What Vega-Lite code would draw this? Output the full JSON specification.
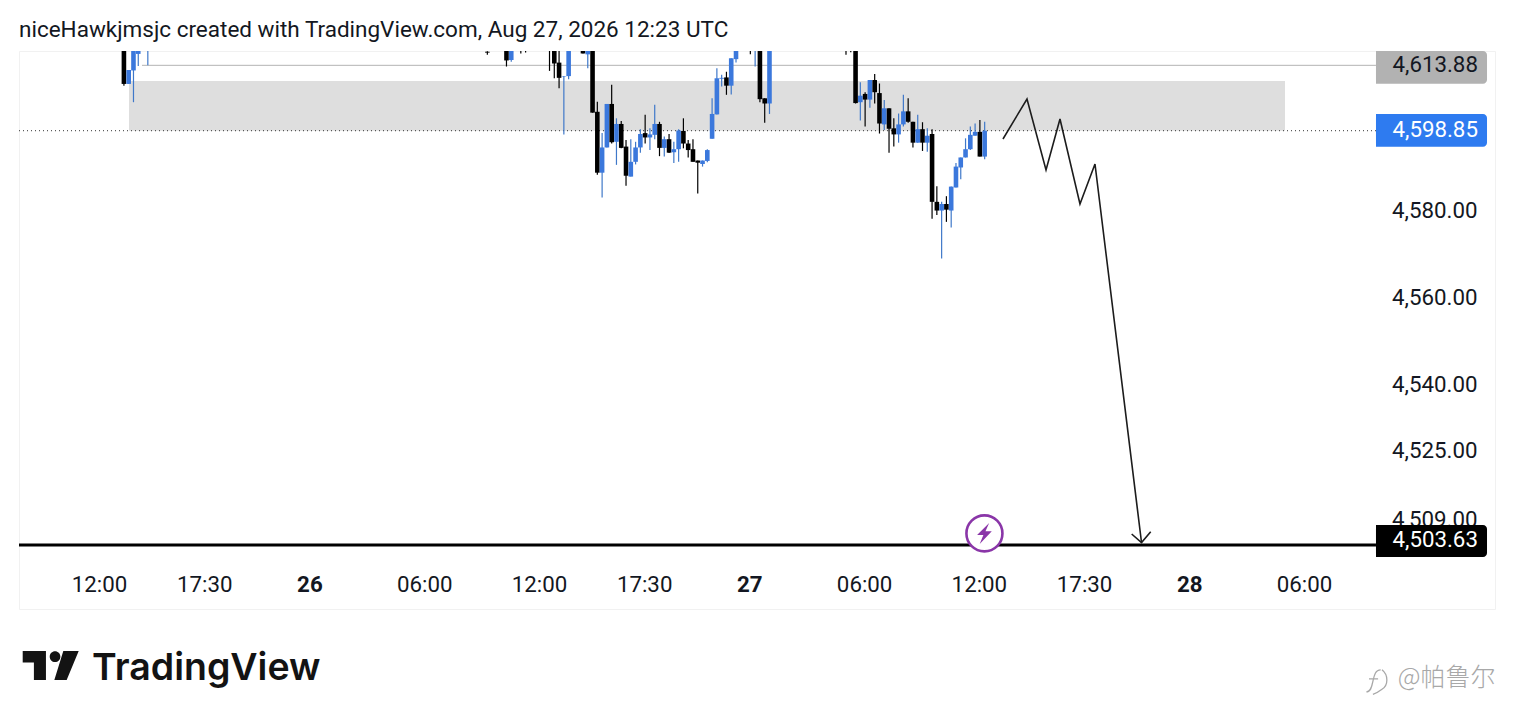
{
  "$schema": "https://vega.github.io/schema/vega-lite/v6.json",
  "autosize": "none",
  "width": 1476,
  "height": 558,
  "padding": {"left": 19, "top": 51, "right": 19, "bottom": 114},
  "background": "white",
  "title": {
    "text": "niceHawkjmsjc created with TradingView.com, Aug 27, 2026 12:23 UTC",
    "anchor": "start",
    "frame": "group",
    "font": "Roboto",
    "fontSize": 22.5,
    "fontWeight": "normal",
    "color": "#131722",
    "offset": 10
  },
  "datasets": {
    "candles": [
      {"bar":5,"open":4619,"high":4619,"low":4609.2,"close":4609.6},
      {"bar":6,"open":4609.6,"high":4612.8,"low":4609.6,"close":4612.8},
      {"bar":7,"open":4612.7,"high":4619,"low":4605.4,"close":4619},
      {"bar":8,"open":4616.5,"high":4619,"low":4613.7,"close":4619},
      {"bar":10,"open":4618.9,"high":4619,"low":4613.9,"close":4619},
      {"bar":81,"open":4617,"high":4617.1,"low":4616.3,"close":4616.8},
      {"bar":85,"open":4619,"high":4619,"low":4613.6,"close":4615},
      {"bar":86,"open":4615.1,"high":4619,"low":4614.7,"close":4619},
      {"bar":88,"open":4619,"high":4619,"low":4616.6,"close":4619},
      {"bar":89,"open":4619,"high":4619,"low":4616.8,"close":4619},
      {"bar":94,"open":4619,"high":4619,"low":4612.6,"close":4619},
      {"bar":95,"open":4619,"high":4619,"low":4610.9,"close":4614.3},
      {"bar":96,"open":4614.5,"high":4619,"low":4608.6,"close":4611},
      {"bar":97,"open":4611.3,"high":4611.4,"low":4598,"close":4611.4},
      {"bar":98,"open":4611.4,"high":4619,"low":4610.7,"close":4619},
      {"bar":101,"open":4619,"high":4619,"low":4616.6,"close":4616.6},
      {"bar":102,"open":4616.4,"high":4619,"low":4613.2,"close":4619},
      {"bar":103,"open":4619,"high":4619,"low":4603,"close":4603},
      {"bar":104,"open":4603.2,"high":4605.5,"low":4588.7,"close":4589.2},
      {"bar":105,"open":4589.2,"high":4598.3,"low":4583.5,"close":4595},
      {"bar":106,"open":4595,"high":4605,"low":4595,"close":4605},
      {"bar":107,"open":4605,"high":4609.4,"low":4595.9,"close":4596.2},
      {"bar":108,"open":4596.3,"high":4601.7,"low":4591,"close":4600.4},
      {"bar":109,"open":4600.4,"high":4601.1,"low":4594.8,"close":4594.9},
      {"bar":110,"open":4595.2,"high":4596.7,"low":4586.2,"close":4588.5},
      {"bar":111,"open":4588.3,"high":4596.9,"low":4588.3,"close":4591.7},
      {"bar":112,"open":4591.7,"high":4596.3,"low":4591.1,"close":4595},
      {"bar":113,"open":4595,"high":4599.2,"low":4593.8,"close":4598.1},
      {"bar":114,"open":4598.3,"high":4602.5,"low":4595.9,"close":4597.3},
      {"bar":115,"open":4597.3,"high":4599.4,"low":4594.4,"close":4598},
      {"bar":116,"open":4597.9,"high":4604.8,"low":4596.9,"close":4600.4},
      {"bar":117,"open":4600.4,"high":4600.9,"low":4593,"close":4594.9},
      {"bar":118,"open":4594.9,"high":4597.5,"low":4592.9,"close":4596.9},
      {"bar":119,"open":4596.9,"high":4598.1,"low":4593.7,"close":4593.8},
      {"bar":120,"open":4593.9,"high":4596.3,"low":4591.4,"close":4594.6},
      {"bar":121,"open":4594.6,"high":4599.2,"low":4591.7,"close":4598.9},
      {"bar":122,"open":4598.8,"high":4601.7,"low":4594.8,"close":4595.9},
      {"bar":123,"open":4595.9,"high":4596.7,"low":4592.7,"close":4594.4},
      {"bar":124,"open":4594.6,"high":4596.9,"low":4591.7,"close":4591.7},
      {"bar":125,"open":4592,"high":4592,"low":4584.4,"close":4591.5},
      {"bar":126,"open":4591.2,"high":4592,"low":4590.6,"close":4592},
      {"bar":127,"open":4591.9,"high":4594.6,"low":4591.6,"close":4594.4},
      {"bar":128,"open":4597,"high":4606.3,"low":4597,"close":4602.7},
      {"bar":129,"open":4602.6,"high":4613.2,"low":4602.6,"close":4610.9},
      {"bar":130,"open":4610.8,"high":4611.7,"low":4609,"close":4611},
      {"bar":131,"open":4611.1,"high":4612.4,"low":4607.1,"close":4609.2},
      {"bar":132,"open":4609.2,"high":4615.5,"low":4607.2,"close":4615.5},
      {"bar":133,"open":4615.3,"high":4619,"low":4614.5,"close":4619},
      {"bar":136,"open":4619,"high":4619,"low":4616.4,"close":4619},
      {"bar":137,"open":4618.9,"high":4619,"low":4613.6,"close":4619},
      {"bar":138,"open":4619,"high":4619,"low":4605.4,"close":4606.1},
      {"bar":139,"open":4606.3,"high":4606.3,"low":4600.7,"close":4605.1},
      {"bar":140,"open":4605.1,"high":4619,"low":4602.7,"close":4619},
      {"bar":156,"open":4619,"high":4619,"low":4616.3,"close":4619},
      {"bar":157,"open":4619,"high":4619,"low":4616.9,"close":4619},
      {"bar":158,"open":4619,"high":4619,"low":4605.1,"close":4605.2},
      {"bar":159,"open":4605.4,"high":4610,"low":4601.2,"close":4606.9},
      {"bar":160,"open":4607.3,"high":4607.7,"low":4599.8,"close":4606},
      {"bar":161,"open":4606,"high":4610.5,"low":4604.1,"close":4610.5},
      {"bar":162,"open":4610.5,"high":4611.9,"low":4605.1,"close":4607.7},
      {"bar":163,"open":4607.5,"high":4609.7,"low":4598.2,"close":4600.5},
      {"bar":164,"open":4600.3,"high":4605.9,"low":4599,"close":4604},
      {"bar":165,"open":4604,"high":4604,"low":4593.8,"close":4599.3},
      {"bar":166,"open":4599.4,"high":4601.7,"low":4595.2,"close":4598},
      {"bar":167,"open":4598,"high":4602.8,"low":4596.1,"close":4600.3},
      {"bar":168,"open":4600.3,"high":4607.1,"low":4599.8,"close":4603.3},
      {"bar":169,"open":4603.3,"high":4606.3,"low":4600.7,"close":4600.9},
      {"bar":170,"open":4600.9,"high":4600.9,"low":4595,"close":4596.1},
      {"bar":171,"open":4596.1,"high":4602.5,"low":4596.1,"close":4599.2},
      {"bar":172,"open":4599.2,"high":4600.8,"low":4594.2,"close":4596.1},
      {"bar":173,"open":4596.1,"high":4599.4,"low":4594,"close":4597.7},
      {"bar":174,"open":4598.1,"high":4599.2,"low":4578.6,"close":4582.5},
      {"bar":175,"open":4582.5,"high":4586.1,"low":4579.5,"close":4580.5},
      {"bar":176,"open":4580.5,"high":4582.5,"low":4569.5,"close":4582},
      {"bar":177,"open":4582,"high":4583.8,"low":4577.9,"close":4580.7},
      {"bar":178,"open":4580.5,"high":4586,"low":4576.6,"close":4586},
      {"bar":179,"open":4585.8,"high":4591.4,"low":4585.8,"close":4590.6},
      {"bar":180,"open":4590.4,"high":4592.7,"low":4587.7,"close":4592.7},
      {"bar":181,"open":4592.7,"high":4597.1,"low":4592.7,"close":4594.6},
      {"bar":182,"open":4594.6,"high":4599.8,"low":4594.4,"close":4597.9},
      {"bar":183,"open":4597.7,"high":4600.5,"low":4597.7,"close":4598.6},
      {"bar":184,"open":4598.6,"high":4601.3,"low":4592.9,"close":4592.9},
      {"bar":185,"open":4592.9,"high":4600.9,"low":4592.3,"close":4598.85}
    ],
    "zone": [{"start":6.06,"end":247.8,"top":4610.27,"bottom":4598.85}],
    "levels": [
      {"kind":"level","price":4613.88,"start":8.78,"end":266.83},
      {"kind":"last","price":4598.85,"start":-16.94,"end":266.83},
      {"kind":"stop","price":4503.63,"start":-16.94,"end":266.83}
    ],
    "tags": [
      {"kind":"level","label":"4,613.88","start":266.83,"end":290.05,"textBar":288.15,"top":4617.17,"bottom":4609.65,"mid":4613.95},
      {"kind":"last","label":"4,598.85","start":266.83,"end":290.05,"textBar":288.15,"top":4602.69,"bottom":4595.17,"mid":4599},
      {"kind":"stop","label":"4,503.63","start":266.83,"end":290.05,"textBar":288.15,"top":4508.23,"bottom":4500.87,"mid":4504.78}
    ],
    "path": [
      {"part":"path","step":1,"bar":188.83,"price":4596.94},
      {"part":"path","step":2,"bar":193.85,"price":4606.14},
      {"part":"path","step":3,"bar":197.83,"price":4589.82},
      {"part":"path","step":4,"bar":200.75,"price":4601.54},
      {"part":"path","step":5,"bar":204.93,"price":4582},
      {"part":"path","step":6,"bar":208.07,"price":4591.2},
      {"part":"path","step":7,"bar":217.8,"price":4504.2},
      {"part":"head","step":1,"bar":215.74,"price":4506.16},
      {"part":"head","step":2,"bar":217.8,"price":4504.2},
      {"part":"head","step":3,"bar":219.72,"price":4506.69}
    ],
    "flash": [{"bar":184.95,"price":4506.3}],
    "logo": [{"bar":-10.31,"price":4475.94}],
    "brand": [{"bar":-1.67,"price":4472.6,"label":"TradingView"}],
    "mark": [{"bar":271.4,"price":4471.2,"label":"@帕鲁尔"}],
    "markIcon": [{"bar":267,"price":4472.26}]
  },
  "layer": [
    {
      "data": {"name": "zone"},
      "mark": {"type": "rect", "color": "#dedede"},
      "encoding": {
        "x": {
          "field": "start", "type": "quantitative", "title": null,
          "scale": {"domain": [-16.94, 291.72], "nice": false, "zero": false, "padding": 0},
          "axis": {
            "orient": "bottom", "offset": -25, "grid": false, "domain": false, "ticks": false,
            "values": [0, 22, 44, 68, 92, 114, 136, 160, 184, 206, 228, 252],
            "labelExpr": "{'0':'12:00','22':'17:30','44':'26','68':'06:00','92':'12:00','114':'17:30','136':'27','160':'06:00','184':'12:00','206':'17:30','228':'28','252':'06:00'}[datum.value]",
            "labelFont": "Roboto", "labelFontSize": 22.3, "labelColor": "#131722",
            "labelFontWeight": {"condition": {"test": "datum.value == 44 || datum.value == 136 || datum.value == 228", "value": "bold"}, "value": "normal"},
            "labelPadding": 0, "labelOffset": -1, "labelBaseline": "middle", "labelAlign": "center", "labelOverlap": false, "labelFlush": false
          }
        },
        "x2": {"field": "end"},
        "y": {
          "field": "top", "type": "quantitative", "title": null,
          "scale": {"domain": [4488.92, 4617.17], "nice": false, "zero": false, "padding": 0},
          "axis": {
            "orient": "right", "offset": -18, "grid": false, "domain": false, "ticks": false,
            "values": [4580, 4560, 4540, 4525, 4509],
            "format": ",.2f",
            "labelFont": "Roboto", "labelFontSize": 22.3, "labelColor": "#131722",
            "labelPadding": 0, "labelAlign": "right", "labelBaseline": "middle", "labelOffset": -2, "labelOverlap": false
          }
        },
        "y2": {"field": "bottom"}
      }
    },
    {
      "data": {"name": "levels"},
      "transform": [{"filter": "datum.kind == 'level'"}],
      "mark": {"type": "rule", "color": "#b4b4b4", "strokeWidth": 1},
      "encoding": {
        "x": {"field": "start", "type": "quantitative", "title": null},
        "x2": {"field": "end"},
        "y": {"field": "price", "type": "quantitative", "title": null}
      }
    },
    {
      "data": {"name": "levels"},
      "transform": [{"filter": "datum.kind == 'last'"}],
      "mark": {"type": "rule", "color": "#333333", "strokeWidth": 1, "strokeDash": [1, 3]},
      "encoding": {
        "x": {"field": "start", "type": "quantitative", "title": null},
        "x2": {"field": "end"},
        "y": {"field": "price", "type": "quantitative", "title": null}
      }
    },
    {
      "data": {"name": "levels"},
      "transform": [{"filter": "datum.kind == 'stop'"}],
      "mark": {"type": "rule", "color": "#000000", "strokeWidth": 3},
      "encoding": {
        "x": {"field": "start", "type": "quantitative", "title": null},
        "x2": {"field": "end"},
        "y": {"field": "price", "type": "quantitative", "title": null}
      }
    },
    {
      "data": {"name": "candles"},
      "mark": {"type": "rule", "strokeWidth": 1.2, "clip": true},
      "encoding": {
        "x": {"field": "bar", "type": "quantitative", "title": null},
        "y": {"field": "low", "type": "quantitative", "title": null},
        "y2": {"field": "high"},
        "color": {"condition": {"test": "datum.open < datum.close", "value": "#3f78c9"}, "value": "#000000"}
      }
    },
    {
      "data": {"name": "candles"},
      "mark": {"type": "bar", "size": 4.6, "clip": true},
      "encoding": {
        "x": {"field": "bar", "type": "quantitative", "title": null},
        "y": {"field": "open", "type": "quantitative", "title": null},
        "y2": {"field": "close"},
        "color": {"condition": {"test": "datum.open < datum.close", "value": "#3b78dc"}, "value": "#000000"}
      }
    },
    {
      "data": {"name": "path"},
      "mark": {"type": "line", "color": "#1c1c1c", "strokeWidth": 1.6},
      "encoding": {
        "x": {"field": "bar", "type": "quantitative", "title": null},
        "y": {"field": "price", "type": "quantitative", "title": null},
        "detail": {"field": "part"},
        "order": {"field": "step"}
      }
    },
    {
      "data": {"name": "tags"},
      "mark": {"type": "rect", "cornerRadiusTopRight": 4, "cornerRadiusBottomRight": 4},
      "encoding": {
        "x": {"field": "start", "type": "quantitative", "title": null},
        "x2": {"field": "end"},
        "y": {"field": "top", "type": "quantitative", "title": null},
        "y2": {"field": "bottom"},
        "color": {"field": "kind", "type": "nominal", "legend": null, "scale": {"domain": ["level", "last", "stop"], "range": ["#b2b2b2", "#2e7bf0", "#000000"]}}
      }
    },
    {
      "data": {"name": "tags"},
      "mark": {"type": "text", "align": "right", "baseline": "middle", "font": "Roboto", "fontSize": 22.3},
      "encoding": {
        "x": {"field": "textBar", "type": "quantitative", "title": null},
        "y": {"field": "mid", "type": "quantitative", "title": null},
        "text": {"field": "label"},
        "color": {"condition": {"test": "datum.kind == 'level'", "value": "#131722"}, "value": "#ffffff"}
      }
    },
    {
      "data": {"name": "flash"},
      "mark": {"type": "point", "shape": "circle", "size": 1296, "filled": true, "fill": "#ffffff", "stroke": "#8a36a8", "strokeWidth": 2.6, "opacity": 1},
      "encoding": {
        "x": {"field": "bar", "type": "quantitative", "title": null},
        "y": {"field": "price", "type": "quantitative", "title": null}
      }
    },
    {
      "data": {"name": "flash"},
      "mark": {"type": "point", "shape": "M0.45,-1L-0.7,0.15L-0.1,0.15L-0.45,1L0.7,-0.2L0.1,-0.2Z", "size": 441, "filled": true, "fill": "#8a36a8", "stroke": null, "opacity": 1},
      "encoding": {
        "x": {"field": "bar", "type": "quantitative", "title": null},
        "y": {"field": "price", "type": "quantitative", "title": null}
      }
    },
    {
      "data": {"name": "logo"},
      "mark": {"type": "point", "shape": "M-1,-0.52L-0.17,-0.52L-0.17,0.52L-0.6,0.52L-0.6,-0.11L-1,-0.11ZM0.45,-0.52L1,-0.52L0.57,0.52L0.13,0.52ZM-0.035,-0.315a0.19,0.19 0 1,0 0.38,0a0.19,0.19 0 1,0 -0.38,0Z", "size": 3136, "filled": true, "fill": "#131313", "stroke": null, "opacity": 1},
      "encoding": {
        "x": {"field": "bar", "type": "quantitative", "title": null},
        "y": {"field": "price", "type": "quantitative", "title": null}
      }
    },
    {
      "data": {"name": "brand"},
      "mark": {"type": "text", "align": "left", "baseline": "alphabetic", "font": "Inter", "fontWeight": 600, "fontSize": 37.5, "color": "#131313"},
      "encoding": {
        "x": {"field": "bar", "type": "quantitative", "title": null},
        "y": {"field": "price", "type": "quantitative", "title": null},
        "text": {"field": "label"}
      }
    },
    {
      "data": {"name": "mark"},
      "mark": {"type": "text", "align": "left", "baseline": "alphabetic", "font": "Noto Sans CJK SC", "fontWeight": 300, "fontSize": 25, "color": "#a8a8a8"},
      "encoding": {
        "x": {"field": "bar", "type": "quantitative", "title": null},
        "y": {"field": "price", "type": "quantitative", "title": null},
        "text": {"field": "label"}
      }
    },
    {
      "data": {"name": "markIcon"},
      "mark": {"type": "point", "shape": "M0.3,-0.9C-0.1,-0.9,-0.2,-0.5,-0.3,0C-0.4,0.5,-0.5,0.8,-0.8,0.8M-0.6,-0.2L0.1,-0.2M0.4,-0.9C0.9,-0.5,0.9,0.3,0.4,0.6C0.2,0.75,0,0.9,-0.3,1", "size": 676, "filled": false, "stroke": "#a8a8a8", "strokeWidth": 1.3, "opacity": 1},
      "encoding": {
        "x": {"field": "bar", "type": "quantitative", "title": null},
        "y": {"field": "price", "type": "quantitative", "title": null}
      }
    }
  ],
  "config": {"view": {"stroke": "#f1f1f1"}}
}
